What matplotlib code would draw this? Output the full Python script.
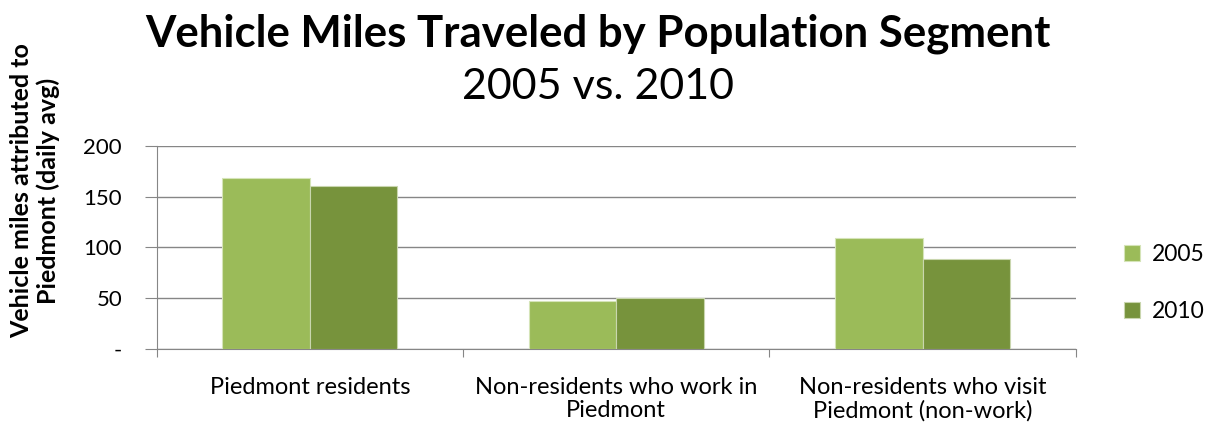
import numpy as np
import matplotlib.pyplot as plt

# Vehicle miles by population segment
categories = ['Piedmont residents', 'Non-residents who work in\nPiedmont',
              'Non-residents who visit\nPiedmont (non-work)']
miles_2005 = [168, 47, 109]
miles_2010 = [161, 50, 89]
yticks = [0, 50, 100, 150, 200]
ytick_labels = ['-', '50', '100', '150', '200']

plt.rcParams['font.family'] = ['Lato', 'DejaVu Sans']

fig = plt.figure(figsize=(12.06, 4.28), dpi=100)
ax = fig.add_axes([0.130, 0.1846, 0.762, 0.4744])

x = np.arange(len(categories))
w = 1 / 3.5
ax.bar(x - w / 2, miles_2005, w, color='#9BBB59', edgecolor='#d5e4b8', linewidth=0.8, label='2005', zorder=3)
ax.bar(x + w / 2, miles_2010, w, color='#77933C', edgecolor='#c9d6ae', linewidth=0.8, label='2010', zorder=3)

ax.set_xlim(-0.5, 2.5)
ax.set_ylim(0, 200)
ax.set_yticks(yticks)
ax.set_yticklabels(ytick_labels, fontsize=16)
ax.yaxis.grid(True, color='#868686', linewidth=1, zorder=0)
ax.tick_params(axis='y', length=9, color='#868686', pad=16)

# category labels sit between the boundary ticks
ax.set_xticks([-0.5, 0.5, 1.5, 2.5])
ax.set_xticklabels([])
ax.set_xticks(x, minor=True)
ax.set_xticklabels(categories, minor=True, fontsize=17, linespacing=1.15)
ax.tick_params(axis='x', which='major', length=6, color='#868686')
ax.tick_params(axis='x', which='minor', length=0, pad=20)

for side in ['top', 'right']:
    ax.spines[side].set_visible(False)
ax.spines['left'].set_color('#868686')
ax.spines['bottom'].set_color('#868686')

fig.text(0.029, 0.555, 'Vehicle miles attributed to\nPiedmont (daily avg)', rotation=90,
         ha='center', va='center', fontsize=18, fontweight='bold', linespacing=1.2)

fig.text(0.496, 0.922, 'Vehicle Miles Traveled by Population Segment', ha='center', va='center',
         fontsize=31.5, fontweight='bold')
fig.text(0.496, 0.797, '2005 vs. 2010', ha='center', va='center', fontsize=31)

ax.legend(loc='center left', bbox_to_anchor=(1.03, 0.325), frameon=False, fontsize=16.5,
          handlelength=0.7, handleheight=0.7, labelspacing=1.6, handletextpad=0.5)

fig.savefig('out.png', dpi=100)
